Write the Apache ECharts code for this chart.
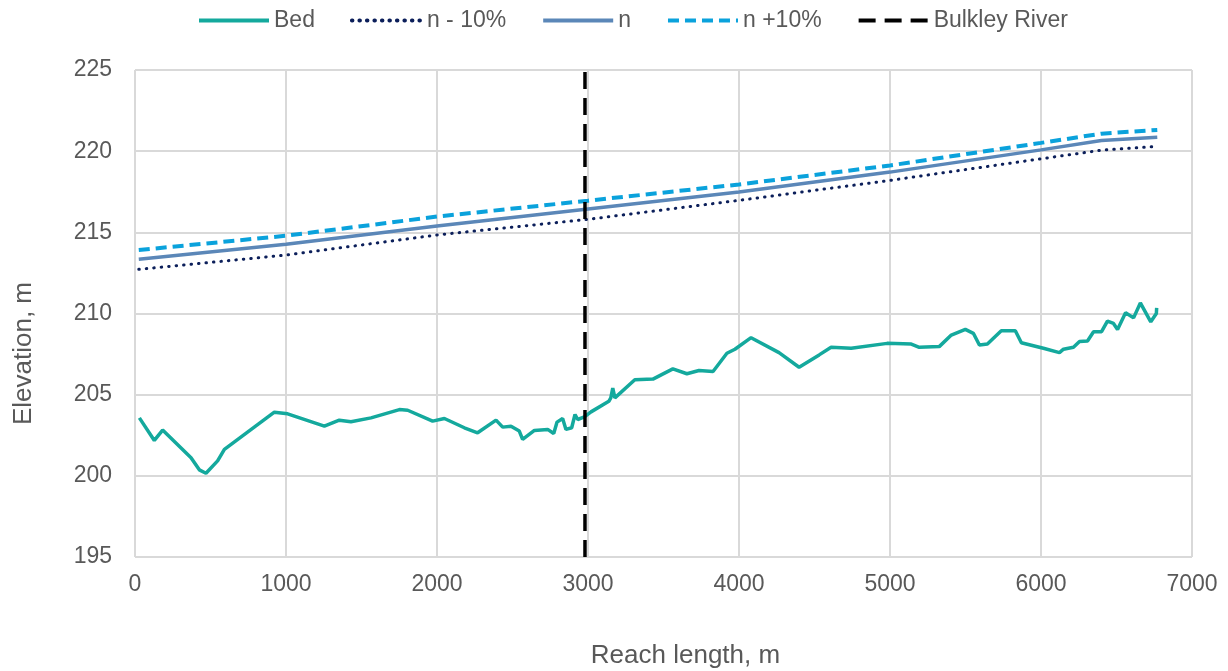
<!DOCTYPE html>
<html>
<head>
<meta charset="utf-8">
<script src="https://cdn.jsdelivr.net/npm/echarts@6/dist/echarts.min.js"></script>
<style>
  html, body { margin: 0; padding: 0; background: #ffffff; }
  #chart { width: 1228px; height: 671px; }
</style>
</head>
<body>
<div id="chart"></div>
<script>
// bed profile
const bedX = [29, 128, 183, 371, 426, 470, 547, 592, 923, 1011, 1254, 1353, 1430, 1563, 1751, 1806,
  1971, 2049, 2181, 2269, 2391, 2435, 2490, 2545, 2567, 2645, 2733, 2773, 2795, 2832, 2854, 2892,
  2914, 2932, 2976, 3020, 3138, 3151, 3164, 3178, 3310, 3430, 3562, 3655, 3735, 3828, 3920, 3973,
  4080, 4265, 4398, 4531, 4610, 4743, 4981, 5141, 5194, 5326, 5406, 5499, 5552, 5592, 5645, 5737,
  5830, 5870, 6016, 6122, 6149, 6215, 6255, 6308, 6348, 6401, 6440, 6480, 6507, 6560, 6613, 6658,
  6727, 6764, 6766];
const bedY = [203.57, 202.18, 202.82, 201.12, 200.37, 200.16, 200.92, 201.63, 203.92, 203.82, 203.06,
  203.43, 203.33, 203.57, 204.08, 204.04, 203.37, 203.53, 202.96, 202.65, 203.43, 203.0, 203.06,
  202.76, 202.24, 202.8, 202.86, 202.61, 203.31, 203.53, 202.86, 202.96, 203.78, 203.47, 203.63,
  203.94, 204.59, 204.8, 205.41, 204.8, 205.92, 205.96, 206.59, 206.29, 206.49, 206.43, 207.55,
  207.8, 208.51, 207.59, 206.69, 207.45, 207.92, 207.86, 208.16, 208.12, 207.92, 207.96, 208.67,
  209.02, 208.78, 208.06, 208.12, 208.94, 208.94, 208.2, 207.86, 207.59, 207.8, 207.92, 208.27,
  208.31, 208.88, 208.88, 209.53, 209.39, 209.02, 210.04, 209.73, 210.65, 209.49, 210.0, 210.35];

// water surface profiles
const wsX = [25, 1000, 2000, 3000, 4000, 5000, 6000, 6400, 6770];
const nMinus = [212.72, 213.6, 214.84, 215.8, 216.97, 218.2, 219.53, 220.06, 220.29];
const nMid = [213.34, 214.26, 215.39, 216.44, 217.48, 218.71, 220.08, 220.66, 220.86];
const nPlus = [213.91, 214.79, 215.97, 216.95, 217.95, 219.12, 220.51, 221.08, 221.31];

// Bulkley River confluence
const riverX = 2980;
const riverY = [195, 225];

const xTicks = { min: 0, max: 7000, step: 1000 };
const yTicks = { min: 195, max: 225, step: 5 };

function pairs(xs, ys) {
  return xs.map((x, i) => [x, ys[i]]);
}

const chart = echarts.init(document.getElementById('chart'));
const grey = '#595959';
const font = 'Liberation Sans, Arial, sans-serif';

let option = {
  backgroundColor: '#ffffff',
  animation: false,
  textStyle: { fontFamily: font },
  legend: {
    top: 4,
    left: 192,
    itemWidth: 70,
    itemHeight: 14,
    itemGap: 35,
    itemStyle: { opacity: 0 },
    lineStyle: { width: 4 },
    textStyle: { color: grey, fontSize: 23, fontFamily: font },
    data: ['Bed', 'n - 10%', 'n', 'n +10%', 'Bulkley River']
  },
  grid: { left: 135, right: 36, top: 70, bottom: 114, outerBoundsMode: 'none' },
  xAxis: {
    type: 'value',
    min: xTicks.min,
    max: xTicks.max,
    interval: xTicks.step,
    name: 'Reach length, m',
    nameLocation: 'middle',
    nameGap: 86,
    nameTextStyle: { color: grey, fontSize: 26, fontFamily: font, padding: [0, 0, 0, 44] },
    axisLine: { show: false },
    axisTick: { show: false },
    axisLabel: { color: grey, fontSize: 23, margin: 16, formatter: v => String(v) },
    splitLine: { lineStyle: { color: '#d9d9d9', width: 2 } }
  },
  yAxis: {
    type: 'value',
    min: yTicks.min,
    max: yTicks.max,
    interval: yTicks.step,
    name: 'Elevation, m',
    nameLocation: 'middle',
    nameGap: 98,
    nameTextStyle: { color: grey, fontSize: 26, fontFamily: font, padding: [0, 80, 0, 0] },
    axisLine: { show: false },
    axisTick: { show: false },
    axisLabel: { color: grey, fontSize: 23, margin: 23, formatter: v => String(v) },
    splitLine: { lineStyle: { color: '#d9d9d9', width: 2 } }
  },
  series: [
    {
      name: 'Bed', type: 'line', symbol: 'none', z: 3,
      lineStyle: { color: '#14a99d', width: 3.5 },
      itemStyle: { color: '#14a99d' },
      data: pairs(bedX, bedY)
    },
    {
      name: 'n - 10%', type: 'line', symbol: 'none', z: 3,
      lineStyle: { color: '#0c1f5a', width: 3, type: [0.5, 7], cap: 'round' },
      itemStyle: { color: '#0c1f5a' },
      data: pairs(wsX, nMinus)
    },
    {
      name: 'n', type: 'line', symbol: 'none', z: 3,
      lineStyle: { color: '#5b87b8', width: 3.5 },
      itemStyle: { color: '#5b87b8' },
      data: pairs(wsX, nMid)
    },
    {
      name: 'n +10%', type: 'line', symbol: 'none', z: 3,
      lineStyle: { color: '#0aa2dc', width: 4, type: [11, 6] },
      itemStyle: { color: '#0aa2dc' },
      data: pairs(wsX, nPlus)
    },
    {
      name: 'Bulkley River', type: 'line', symbol: 'none', z: 4,
      lineStyle: { color: '#000000', width: 3.5, type: [17, 9] },
      itemStyle: { color: '#000000' },
      data: riverY.map(y => [riverX, y])
    }
  ]
};
chart.setOption(option);
</script>
</body>
</html>
